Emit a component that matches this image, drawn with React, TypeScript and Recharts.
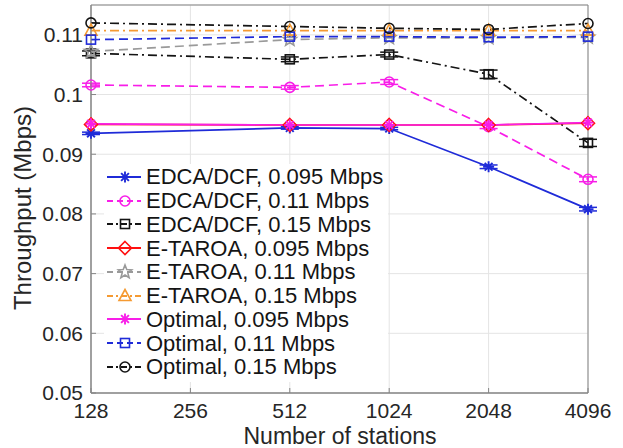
import React from 'react';
import { LineChart, Line, XAxis, YAxis, CartesianGrid, Legend, ErrorBar, ReferenceArea } from 'recharts';

// number of stations (x axis is log2)
const stations = [128, 512, 1024, 2048, 4096];
const xTicks = [128, 256, 512, 1024, 2048, 4096];
const yTicks = [0.05, 0.06, 0.07, 0.08, 0.09, 0.1, 0.11];

// throughput in Mbps
const edca095 = [0.0935, 0.0944, 0.0943, 0.0879, 0.0808];
const edca011 = [0.1016, 0.1012, 0.1021, 0.0946, 0.0858];
const edca015 = [0.1069, 0.1059, 0.1067, 0.1034, 0.0919];
const taroa095 = [0.095, 0.0949, 0.0949, 0.0949, 0.0952];
const taroa011 = [0.1072, 0.1092, 0.1095, 0.1095, 0.1096];
const taroa015 = [0.1107, 0.1107, 0.1107, 0.1107, 0.1107];
const opt095 = [0.0951, 0.0949, 0.0949, 0.0949, 0.0953];
const opt011 = [0.1092, 0.1097, 0.1097, 0.1096, 0.1097];
const opt015 = [0.112, 0.1114, 0.1111, 0.1109, 0.1119];

// half-width of the confidence intervals
const edca095Err = [0.0002, 0.0002, 0.0002, 0.0003, 0.0003];
const edca011Err = [0.0003, 0.0003, 0.0004, 0.0003, 0.0004];
const edca015Err = [0.0004, 0.0004, 0.0004, 0.0007, 0.0006];

const rows = stations.map((x, i) => ({
  x,
  edca095: edca095[i],
  edca011: edca011[i],
  edca015: edca015[i],
  taroa095: taroa095[i],
  taroa011: taroa011[i],
  taroa015: taroa015[i],
  opt095: opt095[i],
  opt011: opt011[i],
  opt015: opt015[i],
  edca095Err: edca095Err[i],
  edca011Err: edca011Err[i],
  edca015Err: edca015Err[i],
}));

const BLUE = '#1f2bd8';
const MAGENTA = '#f81ee8';
const BLACK = '#141414';
const RED = '#ff1010';
const GRAY = '#9a9a9a';
const ORANGE = '#f59a32';

const DASH = '9 5';
const DASHDOT = '9 4 2 4';

type Shape = 'asterisk' | 'circle' | 'square' | 'diamond' | 'pentagram' | 'triangle';

const series: Array<{ key: string; name: string; color: string; dash?: string; shape: Shape; err?: string }> = [
  { key: 'edca095', name: 'EDCA/DCF, 0.095 Mbps', color: BLUE, shape: 'asterisk', err: 'edca095Err' },
  { key: 'edca011', name: 'EDCA/DCF, 0.11 Mbps', color: MAGENTA, dash: DASH, shape: 'circle', err: 'edca011Err' },
  { key: 'edca015', name: 'EDCA/DCF, 0.15 Mbps', color: BLACK, dash: DASHDOT, shape: 'square', err: 'edca015Err' },
  { key: 'taroa095', name: 'E-TAROA, 0.095 Mbps', color: RED, shape: 'diamond' },
  { key: 'taroa011', name: 'E-TAROA, 0.11 Mbps', color: GRAY, dash: DASH, shape: 'pentagram' },
  { key: 'taroa015', name: 'E-TAROA, 0.15 Mbps', color: ORANGE, dash: DASHDOT, shape: 'triangle' },
  { key: 'opt095', name: 'Optimal, 0.095 Mbps', color: MAGENTA, shape: 'asterisk' },
  { key: 'opt011', name: 'Optimal, 0.11 Mbps', color: BLUE, dash: DASH, shape: 'square' },
  { key: 'opt015', name: 'Optimal, 0.15 Mbps', color: BLACK, dash: DASHDOT, shape: 'circle' },
];

const FONT = '"Liberation Sans", Arial, Helvetica, sans-serif';

function Marker({ shape, cx, cy, color }: { shape: Shape; cx: number; cy: number; color: string }) {
  const sw = 1.6;
  if (shape === 'asterisk') {
    const r = 5.5;
    const d = r * 0.7071;
    return (
      <g stroke={color} strokeWidth={1.9}>
        <line x1={cx - r} y1={cy} x2={cx + r} y2={cy} />
        <line x1={cx} y1={cy - r} x2={cx} y2={cy + r} />
        <line x1={cx - d} y1={cy - d} x2={cx + d} y2={cy + d} />
        <line x1={cx - d} y1={cy + d} x2={cx + d} y2={cy - d} />
      </g>
    );
  }
  if (shape === 'circle') {
    return <circle cx={cx} cy={cy} r={5} fill="none" stroke={color} strokeWidth={sw} />;
  }
  if (shape === 'square') {
    return <rect x={cx - 4.5} y={cy - 4.5} width={9} height={9} fill="none" stroke={color} strokeWidth={sw} />;
  }
  if (shape === 'diamond') {
    const r = 6.5;
    return (
      <polygon
        points={`${cx},${cy - r} ${cx + r},${cy} ${cx},${cy + r} ${cx - r},${cy}`}
        fill="none"
        stroke={color}
        strokeWidth={sw}
      />
    );
  }
  if (shape === 'pentagram') {
    const pts: string[] = [];
    for (let k = 0; k < 10; k++) {
      const r = k % 2 === 0 ? 7 : 3;
      const a = -Math.PI / 2 + (k * Math.PI) / 5;
      pts.push(`${cx + r * Math.cos(a)},${cy + r * Math.sin(a)}`);
    }
    return <polygon points={pts.join(' ')} fill="none" stroke={color} strokeWidth={sw} />;
  }
  // triangle
  return (
    <polygon
      points={`${cx},${cy - 6.5} ${cx + 6},${cy + 4.5} ${cx - 6},${cy + 4.5}`}
      fill="none"
      stroke={color}
      strokeWidth={sw}
    />
  );
}

function LegendBox() {
  return (
    <div style={{ background: '#fff', paddingTop: 1, paddingBottom: 3, fontFamily: FONT }}>
      {series.map((s) => (
        <div key={s.key} style={{ display: 'flex', alignItems: 'center', height: 23.75 }}>
          <svg width={40} height={24} style={{ flex: 'none' }}>
            <line
              x1={3}
              y1={12}
              x2={37}
              y2={12}
              stroke={s.color}
              strokeWidth={1.8}
              strokeDasharray={s.dash ? (s.dash === DASH ? '6 4' : '6 3 2 3') : undefined}
            />
            <Marker shape={s.shape} cx={21} cy={12} color={s.color} />
          </svg>
          <span style={{ marginLeft: 2, fontSize: 22, color: '#141414', whiteSpace: 'nowrap', lineHeight: '23px' }}>
            {s.name}
          </span>
        </div>
      ))}
    </div>
  );
}

const tickStyle = { fontSize: 21, fill: '#262626', fontFamily: FONT };

export default function App() {
  return (
    <div style={{ position: 'absolute', left: 0, top: 0, width: 623, height: 448, background: '#fff' }}>
      <LineChart width={623} height={448} data={rows} margin={{ top: 5, right: 35, bottom: 0, left: 0 }}>
        <CartesianGrid stroke="#e4e4e4" strokeWidth={1} />
        <XAxis
          dataKey="x"
          type="number"
          scale="log"
          domain={[128, 4096]}
          ticks={xTicks}
          interval={0}
          height={55}
          stroke="#858585"
          tickSize={-5}
          tickMargin={15}
          tick={tickStyle}
          label={{
            content: () => (
              <text x={340} y={444} textAnchor="middle" fontSize={23} fill="#262626" fontFamily={FONT}>
                Number of stations
              </text>
            ),
          }}
        />
        <YAxis
          type="number"
          domain={[0.05, 0.115]}
          ticks={yTicks}
          interval={0}
          width={91}
          stroke="#858585"
          tickSize={-5}
          tickMargin={13}
          tick={tickStyle}
          tickFormatter={(v: number) => String(Number(v.toFixed(3)))}
          allowDataOverflow
          label={{
            content: () => (
              <text
                x={31}
                y={208}
                transform="rotate(-90, 31, 208)"
                textAnchor="middle"
                fontSize={24}
                fill="#262626"
                fontFamily={FONT}
              >
                Throughput (Mbps)
              </text>
            ),
          }}
        />
        <ReferenceArea x1={128} x2={4096} y1={0.05} y2={0.115} fill="none" stroke="#858585" strokeWidth={1} ifOverflow="visible" />
        <Legend
          layout="vertical"
          align="center"
          verticalAlign="middle"
          wrapperStyle={{ left: 104, top: 164, width: 284 }}
          content={() => <LegendBox />}
        />
        {series.map((s) => (
          <Line
            key={s.key}
            dataKey={s.key}
            name={s.name}
            stroke={s.color}
            strokeWidth={1.7}
            strokeDasharray={s.dash}
            isAnimationActive={false}
            legendType="none"
            dot={(p: any) => <Marker key={`${s.key}-${p.index}`} shape={s.shape} cx={p.cx} cy={p.cy} color={s.color} />}
            activeDot={false}
          >
            {s.err ? <ErrorBar dataKey={s.err} direction="y" width={9} stroke={s.color} strokeWidth={1.5} /> : null}
          </Line>
        ))}
      </LineChart>
    </div>
  );
}
